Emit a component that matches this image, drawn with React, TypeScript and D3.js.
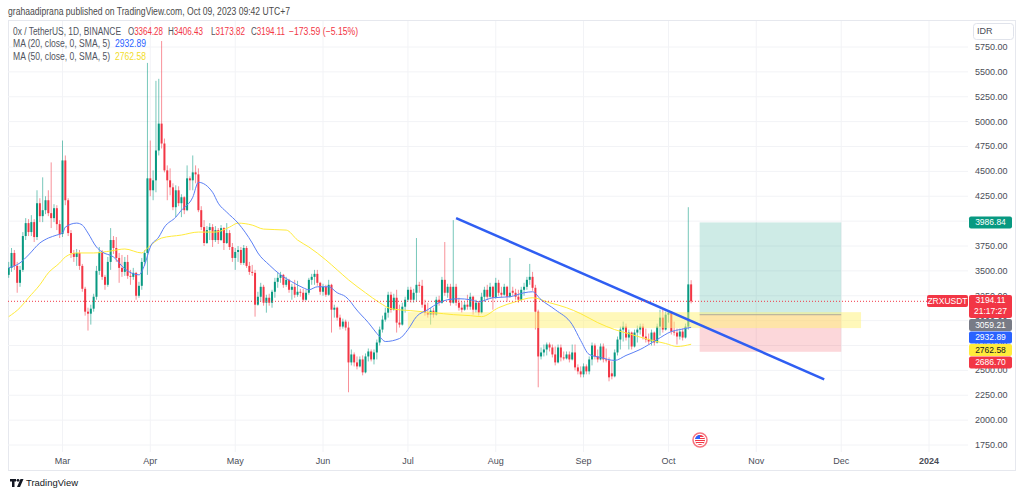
import React from "react";
import * as d3 from "d3";

const FIRST_DAY = "2023-02-10";

// daily ZRX/USDT candles from Feb 10 2023: [open, high, low, close]
const candles = [
  [3460, 3590, 3430, 3530], [3530, 3730, 3490, 3680], [3680, 3710, 3510, 3550], [3550, 3590, 3280, 3380],
  [3380, 3550, 3340, 3510], [3510, 3890, 3490, 3850], [3850, 4030, 3810, 3980], [3980, 4020, 3850, 3890],
  [3890, 4060, 3850, 3990], [3990, 4020, 3790, 3840], [3840, 4310, 3810, 4180], [4180, 4230, 3990, 4050],
  [4050, 4440, 3990, 4110], [4110, 4250, 4070, 4210], [4210, 4310, 4050, 4080], [4080, 4590, 3930, 4030],
  [4030, 4170, 3990, 4130], [4130, 4160, 3910, 3970], [3970, 4010, 3830, 3870], [3870, 4810, 3840, 4610],
  [4610, 4660, 4160, 4210], [4210, 4230, 3850, 3880], [3880, 3910, 3630, 3680], [3680, 3710, 3590, 3640],
  [3640, 3720, 3550, 3680], [3680, 3710, 3510, 3550], [3550, 3570, 3290, 3320], [3320, 3340, 3050, 3090],
  [3090, 3130, 2900, 3070], [3070, 3160, 2960, 3120], [3120, 3270, 3090, 3240], [3240, 3550, 3210, 3500],
  [3500, 3740, 3460, 3690], [3690, 3710, 3410, 3440], [3440, 3460, 3310, 3360], [3360, 3640, 3340, 3590],
  [3590, 3930, 3510, 3810], [3810, 3850, 3670, 3730], [3730, 3840, 3590, 3630], [3630, 3680, 3380, 3530],
  [3530, 3660, 3440, 3490], [3490, 3640, 3450, 3590], [3590, 3660, 3420, 3450], [3450, 3510, 3360, 3440],
  [3440, 3530, 3410, 3480], [3480, 3490, 3210, 3250], [3250, 3390, 3230, 3350], [3350, 3630, 3310, 3590],
  [3590, 3710, 3550, 3680], [3680, 5590, 3460, 4430], [4430, 4810, 4250, 4310], [4310, 4510, 4210, 4410],
  [4410, 5410, 4290, 4710], [4710, 5430, 4660, 4980], [4980, 5810, 4730, 4780], [4780, 4830, 4490, 4510],
  [4510, 4560, 4210, 4410], [4410, 4530, 4260, 4340], [4340, 4380, 4110, 4140], [4140, 4360, 4040, 4310],
  [4310, 4350, 4150, 4180], [4180, 4270, 4040, 4240], [4240, 4250, 4070, 4110], [4110, 4560, 4100, 4430],
  [4430, 4450, 4310, 4410], [4410, 4660, 4310, 4490], [4490, 4560, 4380, 4470], [4470, 4530, 4090, 4110],
  [4110, 4150, 3910, 3940], [3940, 4010, 3750, 3780], [3780, 3950, 3770, 3910], [3910, 3980, 3810, 3940],
  [3940, 3970, 3740, 3810], [3810, 3950, 3790, 3910], [3910, 3930, 3770, 3810], [3810, 3960, 3800, 3930],
  [3930, 3940, 3710, 3780], [3780, 3980, 3770, 3880], [3880, 3910, 3710, 3740], [3740, 3780, 3590, 3630],
  [3630, 3730, 3510, 3690], [3690, 3750, 3590, 3710], [3710, 3740, 3560, 3580], [3580, 3760, 3560, 3730],
  [3730, 3750, 3530, 3550], [3550, 3590, 3460, 3490], [3490, 3560, 3450, 3480], [3480, 3510, 3040, 3160],
  [3160, 3290, 3150, 3240], [3240, 3380, 3190, 3340], [3340, 3360, 3150, 3180], [3180, 3260, 3080, 3230],
  [3230, 3270, 3150, 3180], [3180, 3310, 3130, 3290], [3290, 3430, 3230, 3390], [3390, 3480, 3330, 3430],
  [3430, 3490, 3380, 3460], [3460, 3470, 3330, 3360], [3360, 3440, 3340, 3410], [3410, 3420, 3280, 3310],
  [3310, 3370, 3210, 3340], [3340, 3410, 3230, 3260], [3260, 3400, 3240, 3290], [3290, 3320, 3240, 3280],
  [3280, 3320, 3190, 3210], [3210, 3310, 3200, 3280], [3280, 3430, 3260, 3410], [3410, 3470, 3360, 3440],
  [3440, 3510, 3360, 3470], [3470, 3510, 3350, 3380], [3380, 3390, 3260, 3290], [3290, 3370, 3250, 3340],
  [3340, 3360, 3240, 3260], [3260, 3410, 3250, 3360], [3360, 3370, 2880, 3110], [3110, 3160, 3030, 3130],
  [3130, 3140, 3000, 3030], [3030, 3060, 2910, 2940], [2940, 3020, 2920, 2990], [2990, 3010, 2900, 2930],
  [2930, 2990, 2280, 2580], [2580, 2710, 2550, 2660], [2660, 2680, 2540, 2580], [2580, 2640, 2510, 2540],
  [2540, 2640, 2530, 2610], [2610, 2650, 2450, 2480], [2480, 2670, 2470, 2640], [2640, 2720, 2590, 2690],
  [2690, 2710, 2590, 2610], [2610, 2710, 2560, 2680], [2680, 2810, 2610, 2780], [2780, 2940, 2750, 2910],
  [2910, 3050, 2880, 3010], [3010, 3130, 2990, 3080], [3080, 3290, 3030, 3260], [3260, 3290, 3080, 3110],
  [3110, 3270, 3100, 3230], [3230, 3310, 2880, 2980], [2980, 3160, 2930, 2960], [2960, 3180, 2950, 3140],
  [3140, 3240, 3080, 3210], [3210, 3340, 3190, 3310], [3310, 3340, 3180, 3210], [3210, 3320, 3180, 3280],
  [3280, 3830, 3190, 3360], [3360, 3390, 3280, 3350], [3350, 3410, 3130, 3160], [3160, 3210, 3050, 3080],
  [3080, 3180, 3030, 3060], [3060, 3130, 2960, 3100], [3100, 3130, 3030, 3060], [3060, 3240, 3050, 3210],
  [3210, 3250, 3150, 3180], [3180, 3440, 3170, 3410], [3410, 3790, 3250, 3280], [3280, 3370, 3230, 3340],
  [3340, 3370, 3150, 3180], [3180, 4010, 3170, 3340], [3340, 3370, 3150, 3180], [3180, 3230, 3100, 3130],
  [3130, 3190, 3080, 3110], [3110, 3190, 3100, 3160], [3160, 3260, 3110, 3140], [3140, 3280, 3110, 3240],
  [3240, 3250, 3060, 3110], [3110, 3210, 3080, 3180], [3180, 3190, 3050, 3080], [3080, 3280, 3070, 3240],
  [3240, 3340, 3190, 3310], [3310, 3360, 3210, 3240], [3240, 3380, 3230, 3340], [3340, 3350, 3110, 3230],
  [3230, 3430, 3220, 3380], [3380, 3410, 3250, 3280], [3280, 3340, 3230, 3260], [3260, 3370, 3250, 3340],
  [3340, 3350, 3190, 3240], [3240, 3630, 3230, 3280], [3300, 3340, 3250, 3280], [3280, 3320, 3210, 3240],
  [3240, 3310, 3180, 3210], [3210, 3340, 3200, 3310], [3310, 3380, 3250, 3340], [3340, 3440, 3310, 3410],
  [3410, 3570, 3360, 3440], [3440, 3490, 3300, 3330], [3330, 3360, 2910, 3090], [3090, 3110, 2330, 2640],
  [2640, 2730, 2610, 2680], [2680, 2760, 2640, 2710], [2710, 2780, 2650, 2760], [2760, 2780, 2690, 2730],
  [2730, 2760, 2630, 2660], [2660, 2740, 2550, 2580], [2580, 2760, 2570, 2730], [2730, 2760, 2590, 2630],
  [2630, 2690, 2600, 2620], [2620, 2690, 2610, 2660], [2660, 2690, 2580, 2610], [2610, 2760, 2600, 2680],
  [2680, 2760, 2500, 2530], [2530, 2560, 2460, 2490], [2490, 2540, 2430, 2460], [2460, 2570, 2430, 2540],
  [2540, 2560, 2460, 2490], [2490, 2640, 2460, 2610], [2610, 2780, 2550, 2750], [2750, 2770, 2610, 2640],
  [2640, 2710, 2580, 2610], [2610, 2770, 2600, 2740], [2740, 2770, 2580, 2610], [2610, 2720, 2580, 2600],
  [2600, 2630, 2390, 2430], [2470, 2590, 2410, 2440], [2440, 2710, 2430, 2680], [2680, 2840, 2650, 2810],
  [2810, 2940, 2710, 2910], [2910, 2990, 2790, 2940], [2940, 2970, 2800, 2830], [2830, 2910, 2710, 2880],
  [2880, 2890, 2710, 2740], [2740, 2910, 2730, 2880], [2880, 2950, 2780, 2910], [2910, 2970, 2860, 2940],
  [2940, 2970, 2810, 2840], [2840, 2920, 2780, 2810], [2810, 2870, 2760, 2790], [2790, 2910, 2750, 2880],
  [2880, 2890, 2750, 2780], [2780, 2970, 2770, 2940], [2940, 3110, 2850, 3030], [3030, 3110, 2880, 2910],
  [2910, 3090, 2900, 3060], [3060, 3100, 2980, 3080], [3080, 3090, 2860, 2890], [2890, 2990, 2850, 2880],
  [2880, 2920, 2760, 2840], [2840, 2920, 2810, 2890], [2890, 2920, 2800, 2830], [2830, 2970, 2820, 2940],
  [2940, 4140, 2910, 3364.28], [3364.28, 3406.43, 3173.82, 3194.11],
];

// MA (20)
const ma20 = [
  ["2023-02-10", 3530], ["2023-02-14", 3580], ["2023-02-17", 3660], ["2023-02-21", 3780], ["2023-02-24", 3830],
  ["2023-02-27", 3860], ["2023-03-01", 3880], ["2023-03-02", 3940], ["2023-03-06", 3980], ["2023-03-08", 3960],
  ["2023-03-10", 3880], ["2023-03-13", 3740], ["2023-03-15", 3690], ["2023-03-19", 3640], ["2023-03-23", 3520],
  ["2023-03-28", 3460], ["2023-03-30", 3560], ["2023-04-01", 3740], ["2023-04-04", 3840], ["2023-04-06", 3940],
  ["2023-04-10", 4040], ["2023-04-12", 4110], ["2023-04-16", 4240], ["2023-04-18", 4390], ["2023-04-23", 4290],
  ["2023-04-25", 4180], ["2023-04-28", 4090], ["2023-05-02", 3980], ["2023-05-07", 3780], ["2023-05-09", 3680],
  ["2023-05-13", 3560], ["2023-05-17", 3460], ["2023-05-21", 3390], ["2023-05-25", 3330], ["2023-05-27", 3310],
  ["2023-05-30", 3340], ["2023-06-03", 3340], ["2023-06-06", 3280], ["2023-06-09", 3240], ["2023-06-11", 3180],
  ["2023-06-12", 3140], ["2023-06-17", 2980], ["2023-06-21", 2840], ["2023-06-23", 2790], ["2023-06-28", 2820],
  ["2023-07-01", 2910], ["2023-07-04", 3040], ["2023-07-08", 3110], ["2023-07-12", 3180], ["2023-07-15", 3210],
  ["2023-07-19", 3220], ["2023-07-23", 3210], ["2023-07-26", 3190], ["2023-07-31", 3230], ["2023-08-06", 3240],
  ["2023-08-11", 3280], ["2023-08-14", 3290], ["2023-08-17", 3210], ["2023-08-22", 3110], ["2023-08-28", 2960],
  ["2023-08-31", 2800], ["2023-09-03", 2660], ["2023-09-07", 2630], ["2023-09-12", 2600], ["2023-09-16", 2650],
  ["2023-09-21", 2710], ["2023-09-27", 2810], ["2023-10-02", 2890], ["2023-10-05", 2910], ["2023-10-09", 2932.89],
];

// MA (50)
const ma50 = [
  ["2023-02-10", 3040], ["2023-02-14", 3130], ["2023-02-17", 3230], ["2023-02-21", 3360], ["2023-02-24", 3480],
  ["2023-02-28", 3580], ["2023-03-02", 3640], ["2023-03-06", 3680], ["2023-03-12", 3680], ["2023-03-18", 3700],
  ["2023-03-23", 3720], ["2023-03-29", 3680], ["2023-03-31", 3730], ["2023-04-05", 3830], ["2023-04-12", 3860],
  ["2023-04-18", 3890], ["2023-04-24", 3890], ["2023-04-29", 3940], ["2023-05-02", 3980], ["2023-05-07", 3960],
  ["2023-05-11", 3920], ["2023-05-19", 3910], ["2023-05-23", 3810], ["2023-05-27", 3740], ["2023-06-02", 3610],
  ["2023-06-06", 3510], ["2023-06-10", 3410], ["2023-06-16", 3280], ["2023-06-21", 3180], ["2023-06-25", 3120],
  ["2023-07-02", 3100], ["2023-07-10", 3080], ["2023-07-17", 3060], ["2023-07-23", 3050], ["2023-07-27", 3040],
  ["2023-08-02", 3130], ["2023-08-08", 3190], ["2023-08-14", 3230], ["2023-08-20", 3180], ["2023-08-26", 3130],
  ["2023-08-31", 3070], ["2023-09-06", 2980], ["2023-09-12", 2910], ["2023-09-18", 2860], ["2023-09-24", 2810],
  ["2023-09-30", 2770], ["2023-10-04", 2740], ["2023-10-09", 2762.58],
];

const priceTicks = d3.range(1750, 5751, 250);
const monthTicks = ["2023-03-01", "2023-04-01", "2023-05-01", "2023-06-01", "2023-07-01", "2023-08-01",
  "2023-09-01", "2023-10-01", "2023-11-01", "2023-12-01", "2024-01-01"];

// drawings
const trendLine = [["2023-07-18", 4030], ["2023-11-25", 2410]];
const zone = { from: "2023-07-01", to: "2023-12-08", low: 2925, high: 3085 };
const trade = { from: "2023-10-12", to: "2023-12-01", entry: 3059.21, target: 3986.84, stop: 2686.7 };
const lastClose = 3194.11;

const UP = "#089981";
const DOWN = "#f23645";
const FONT = "Liberation Sans, Arial, sans-serif";

const parse = d3.utcParse("%Y-%m-%d");

// text squeezed to the width it takes in the screenshot
const Fit = ({ x, y, w, children, ...rest }) => (
  <text x={x} y={y} textLength={w} lengthAdjust="spacingAndGlyphs" dominantBaseline="middle" {...rest}>{children}</text>
);

export default function App() {
  const W = 1024, H = 497;
  const plot = { left: 8, right: 968, top: 21, bottom: 452 };

  const x = d3.scaleUtc().domain([parse("2023-03-01"), parse("2024-01-01")]).range([62.5, 929]);
  const y = d3.scaleLinear().domain([1750, 5750]).range([445, 47]);
  const first = parse(FIRST_DAY);
  const dayX = (i) => x(d3.utcDay.offset(first, i));

  const line = d3.line().x((d) => x(parse(d[0]))).y((d) => y(d[1])).curve(d3.curveMonotoneX);

  const boxL = x(parse(trade.from));
  const boxR = x(parse(trade.to));

  const label = (yc, text, bg, fg = "#fff") => (
    <g>
      <rect x={969} y={yc - 6} width={43} height={12} rx={2} fill={bg} />
      <text x={990.5} y={yc + 0.5} fill={fg} fontSize={8.5} textAnchor="middle" dominantBaseline="middle">{text}</text>
    </g>
  );

  return (
    <svg width={W} height={H} style={{ position: "absolute", left: 0, top: 0, background: "#fff" }} fontFamily={FONT}>
      <defs>
        <clipPath id="plotClip">
          <rect x={plot.left} y={plot.top} width={plot.right - plot.left} height={plot.bottom - plot.top} />
        </clipPath>
      </defs>

      <Fit x={8} y={12.5} w={282} fontSize={10.5} fill="#4a4a4a">
        grahaadiprana published on TradingView.com, Oct 09, 2023 09:42 UTC+7
      </Fit>

      {/* frame */}
      <rect x={8.5} y={20.5} width={1007} height={450} fill="none" stroke="#e6e8ee" />

      {/* grid */}
      {priceTicks.map((p) => (
        <line key={p} x1={plot.left} x2={plot.right} y1={y(p)} y2={y(p)} stroke="#f2f3f6" />
      ))}
      {monthTicks.map((m) => (
        <line key={m} x1={x(parse(m))} x2={x(parse(m))} y1={plot.top} y2={plot.bottom} stroke="#f2f3f6" />
      ))}

      <g clipPath="url(#plotClip)">
        {/* long position box */}
        <rect x={boxL} width={boxR - boxL} y={y(trade.target)} height={y(trade.entry) - y(trade.target)} fill={UP} fillOpacity={0.2} />
        <rect x={boxL} width={boxR - boxL} y={y(trade.entry)} height={y(trade.stop) - y(trade.entry)} fill={DOWN} fillOpacity={0.2} />

        {/* candles */}
        {candles.map(([o, h, l, c], i) => {
          const cx = dayX(i);
          const col = c >= o ? UP : DOWN;
          const top = y(Math.max(o, c));
          const bh = Math.max(1, Math.abs(y(o) - y(c)));
          return (
            <g key={i}>
              <line x1={cx} x2={cx} y1={y(h)} y2={y(l)} stroke={col} strokeOpacity={0.55} strokeWidth={1} />
              <rect x={cx - 1} y={top} width={2} height={bh} fill={col} />
            </g>
          );
        })}

        {/* support zone */}
        <rect x={x(parse(zone.from))} width={x(parse(zone.to)) - x(parse(zone.from))} y={y(zone.high)}
          height={y(zone.low) - y(zone.high)} fill="#fff176" fillOpacity={0.5} />

        <line x1={boxL} x2={boxR} y1={y(trade.entry)} y2={y(trade.entry)} stroke="#b0a89a" strokeWidth={1} />

        <path d={line(ma50)} fill="none" stroke="#ffeb3b" strokeWidth={1} />
        <path d={line(ma20)} fill="none" stroke="#5b7ff5" strokeWidth={1} />

        <line x1={x(parse(trendLine[0][0]))} y1={y(trendLine[0][1])} x2={x(parse(trendLine[1][0]))} y2={y(trendLine[1][1])}
          stroke="#2f5ef2" strokeWidth={2.5} />

        <line x1={plot.left} x2={927} y1={y(lastClose)} y2={y(lastClose)} stroke={DOWN} strokeWidth={1} strokeDasharray="1 2" />
      </g>

      {/* price axis */}
      {priceTicks.map((p) => (
        <text key={p} x={975} y={y(p) + 0.5} fontSize={9} fill="#4a4d57" dominantBaseline="middle">{p.toFixed(2)}</text>
      ))}
      <rect x={973.5} y={23.5} width={40} height={16} rx={3} fill="#fff" stroke="#e0e3eb" />
      <text x={977} y={32} fontSize={9} fill="#4a4d57" dominantBaseline="middle">IDR</text>

      {/* time axis */}
      {monthTicks.map((m) => {
        const d = parse(m);
        const isYear = d.getUTCMonth() === 0;
        return (
          <text key={m} x={x(d)} y={462} fontSize={9} textAnchor="middle" fill="#4a4d57"
            fontWeight={isYear ? "bold" : "normal"} dominantBaseline="middle">
            {isYear ? d3.utcFormat("%Y")(d) : d3.utcFormat("%b")(d)}
          </text>
        );
      })}

      {/* event marker */}
      <g transform="translate(700,440)">
        <circle r={7} fill="#fff" stroke="#f7737e" strokeWidth={1.5} />
        <clipPath id="flag"><circle r={5} /></clipPath>
        <g clipPath="url(#flag)">
          <rect x={-5} y={-5} width={10} height={10} fill="#f23645" />
          {[-3, -1, 1, 3].map((s) => <rect key={s} x={-5} y={s} width={10} height={1} fill="#fff" />)}
          <rect x={-5} y={-5} width={5} height={4} fill="#2962ff" />
        </g>
      </g>

      {/* header */}
      <g fontSize={10}>
        <Fit x={13} y={32} w={108} fill="#50535e">0x / TetherUS, 1D, BINANCE</Fit>
        <Fit x={128} y={32} w={35} fill="#50535e">O<tspan fill={DOWN}>3364.28</tspan></Fit>
        <Fit x={168} y={32} w={35} fill="#50535e">H<tspan fill={DOWN}>3406.43</tspan></Fit>
        <Fit x={211} y={32} w={34} fill="#50535e">L<tspan fill={DOWN}>3173.82</tspan></Fit>
        <Fit x={251} y={32} w={34} fill="#50535e">C<tspan fill={DOWN}>3194.11</tspan></Fit>
        <Fit x={289} y={32} w={69} fill={DOWN}>−173.59 (−5.15%)</Fit>
        <Fit x={13} y={44.5} w={97} fill="#50535e">MA (20, close, 0, SMA, 5)</Fit>
        <Fit x={115} y={44.5} w={31} fill="#2962ff">2932.89</Fit>
        <Fit x={13} y={57} w={97} fill="#50535e">MA (50, close, 0, SMA, 5)</Fit>
        <Fit x={115} y={57} w={31} fill="#f2dd2a">2762.58</Fit>
      </g>

      {/* last value labels */}
      {label(y(trade.target), "3986.84", UP)}
      <rect x={927} y={295} width={41} height={12} rx={2} fill={DOWN} />
      <text x={947.5} y={301.5} fontSize={8.5} fill="#fff" textAnchor="middle" dominantBaseline="middle">ZRXUSDT</text>
      <rect x={969} y={295} width={43} height={23} rx={2} fill={DOWN} />
      <text x={990.5} y={301} fontSize={8.5} fill="#fff" textAnchor="middle" dominantBaseline="middle">3194.11</text>
      <text x={990.5} y={312} fontSize={8.5} fill="#fff" textAnchor="middle" dominantBaseline="middle">21:17:27</text>
      {label(325, "3059.21", "#787b86")}
      {label(337.5, "2932.89", "#2962ff")}
      {label(350, "2762.58", "#ffeb3b", "#131722")}
      {label(362.5, "2686.70", DOWN)}

      {/* footer logo */}
      <g transform="translate(10,478)" fill="#131722">
        <rect x={0} y={1} width={6} height={2.5} />
        <rect x={2} y={1} width={2.5} height={8} />
        <circle cx={8} cy={2.3} r={1.4} />
        <path d="M10.5 1 L13.5 1 L10 9 L7 9 Z" />
      </g>
      <Fit x={26} y={483.5} w={52} fontSize={9.5} fill="#131722">TradingView</Fit>
    </svg>
  );
}
